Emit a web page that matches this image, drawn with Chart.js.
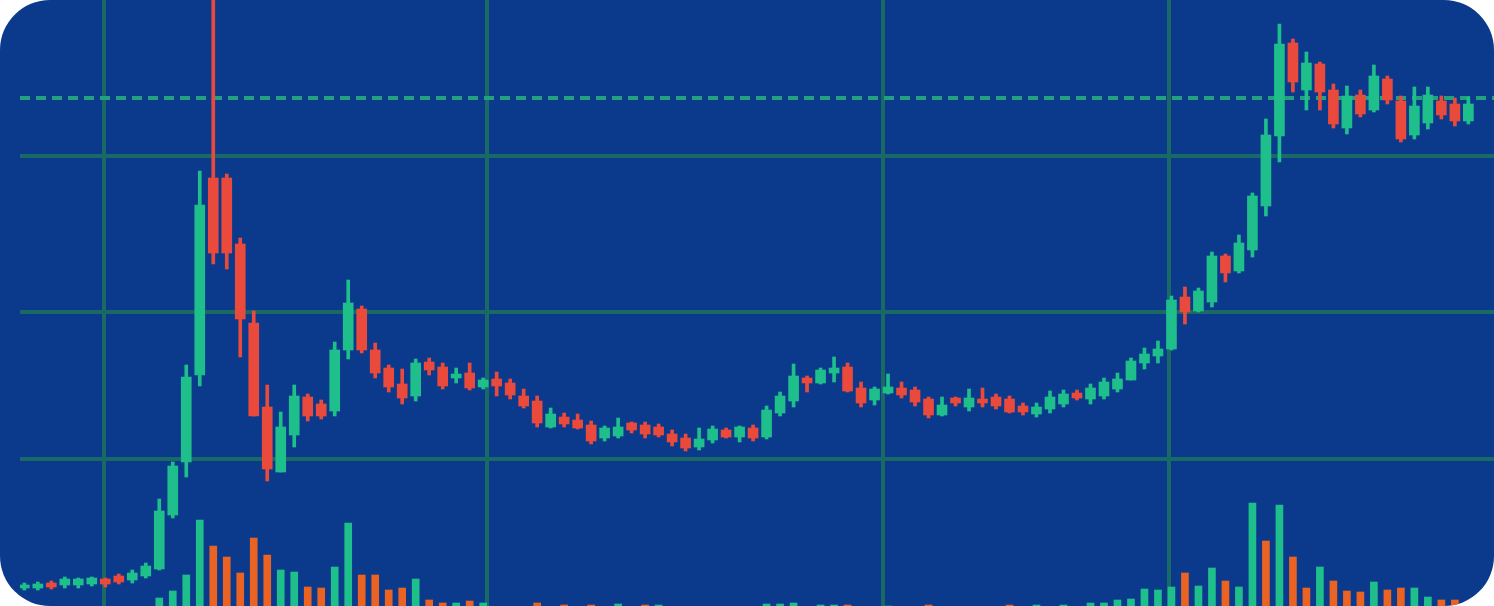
<!DOCTYPE html>
<html>
<head>
<meta charset="utf-8">
<title>Candles</title>
<script src="https://cdn.jsdelivr.net/npm/chart.js@4.4.1/dist/chart.umd.min.js"></script>
<style>
  html, body { margin: 0; padding: 0; background: #ffffff; }
  .wrap { width: 1494px; height: 606px; border-radius: 50px; overflow: hidden; background: #0b3a8c; }
  canvas { display: block; }
</style>
</head>
<body>
<div class="wrap"><canvas id="chart" width="1494" height="606"></canvas></div>
<script>
// OHLC per candle (index 0..107)
const openPrices = [
  1.8, 1.8, 2.3, 2.1, 2.1, 2.2, 2.7, 3.0, 2.6, 3.0,
  3.7, 9.1, 14.4, 23.1, 42.8, 42.8, 36.2, 28.3, 19.9, 13.4,
  17.1, 20.9, 20.2, 19.5, 25.6, 29.7, 25.6, 23.8, 22.2, 21.0,
  24.4, 23.9, 22.8, 23.3, 21.9, 22.7, 22.3, 21.0, 20.5, 17.9,
  18.9, 18.6, 18.1, 16.8, 17.0, 18.3, 18.1, 17.9, 17.2, 16.8,
  15.9, 16.6, 17.6, 16.9, 17.8, 16.9, 19.3, 20.5, 22.8, 22.3,
  23.3, 23.9, 21.8, 20.6, 21.3, 21.8, 21.6, 20.7, 19.1, 20.8,
  19.9, 20.7, 20.9, 20.7, 20.0, 19.2, 19.7, 20.2, 21.3, 20.7,
  21.0, 21.7, 22.6, 24.3, 25.0, 25.7, 30.9, 29.5, 30.4, 35.0,
  33.5, 35.6, 40.0, 47.0, 56.3, 51.6, 54.2, 51.6, 47.8, 51.1,
  49.6, 52.7, 50.5, 47.1, 48.3, 50.5, 50.2, 48.5
];
const highPrices = [
  2.3, 2.4, 2.5, 2.9, 2.8, 2.9, 2.8, 3.2, 3.6, 4.3,
  10.7, 14.4, 24.1, 43.5, 62.6, 43.2, 36.8, 29.5, 22.1, 19.4,
  22.1, 21.2, 20.6, 26.4, 32.6, 30.0, 26.3, 24.1, 23.7, 24.7,
  24.8, 24.3, 23.8, 24.3, 22.8, 23.4, 22.7, 21.7, 21.0, 19.8,
  19.3, 19.2, 18.5, 18.0, 18.8, 18.4, 18.4, 18.2, 17.6, 17.2,
  17.8, 18.0, 17.8, 18.0, 18.1, 20.0, 21.4, 24.2, 23.0, 23.8,
  24.9, 24.3, 22.4, 21.9, 23.2, 22.4, 21.9, 20.9, 20.9, 20.9,
  21.7, 21.8, 21.2, 21.0, 20.3, 20.3, 21.5, 21.6, 21.6, 22.2,
  22.8, 23.3, 24.8, 25.8, 26.5, 31.0, 31.9, 31.8, 35.4, 35.2,
  37.1, 41.3, 48.7, 58.2, 56.7, 55.4, 54.4, 52.2, 52.0, 51.6,
  54.1, 53.0, 51.0, 51.9, 51.9, 51.0, 50.8, 50.9
];
const lowPrices = [
  1.6, 1.6, 1.7, 1.8, 1.8, 2.0, 1.9, 2.2, 2.3, 2.8,
  3.6, 8.8, 12.9, 22.0, 34.2, 33.7, 24.9, 19.0, 12.5, 13.4,
  15.9, 18.5, 18.7, 19.0, 24.7, 25.3, 22.8, 21.4, 20.2, 20.5,
  23.1, 21.7, 22.3, 21.6, 21.7, 21.0, 20.7, 19.8, 17.9, 17.8,
  17.9, 17.7, 16.2, 16.5, 16.8, 17.3, 16.8, 16.9, 16.0, 15.5,
  15.6, 16.3, 16.8, 16.4, 16.5, 16.7, 19.0, 19.9, 21.4, 22.2,
  22.4, 21.4, 19.9, 20.1, 21.2, 20.8, 20.0, 18.8, 19.0, 20.0,
  19.5, 19.9, 19.7, 19.3, 19.1, 18.9, 19.3, 19.9, 20.6, 20.2,
  20.7, 21.4, 22.6, 23.7, 24.3, 25.6, 28.2, 29.4, 29.9, 32.4,
  33.3, 34.9, 39.0, 44.4, 51.4, 49.6, 49.6, 47.8, 47.2, 48.9,
  49.4, 50.2, 46.4, 46.7, 47.7, 48.7, 48.0, 48.2
];
const closePrices = [
  2.1, 2.2, 1.9, 2.7, 2.7, 2.8, 2.2, 2.4, 3.3, 4.0,
  9.5, 14.0, 22.9, 40.1, 35.3, 35.3, 28.7, 19.0, 13.7, 17.9,
  21.0, 19.0, 19.0, 25.6, 30.3, 25.6, 23.3, 21.9, 20.8, 24.3,
  23.6, 22.0, 23.2, 21.8, 22.6, 22.0, 21.1, 20.0, 18.3, 19.2,
  18.2, 17.8, 16.5, 17.8, 17.9, 17.6, 17.2, 17.1, 16.4, 15.8,
  16.7, 17.7, 16.9, 17.9, 16.8, 19.6, 21.0, 23.0, 22.3, 23.6,
  23.8, 21.5, 20.3, 21.7, 21.9, 21.1, 20.4, 19.1, 20.1, 20.3,
  20.8, 20.3, 20.0, 19.4, 19.4, 19.9, 20.9, 21.2, 20.8, 21.8,
  22.4, 22.7, 24.5, 25.2, 25.7, 30.6, 29.4, 31.5, 35.0, 33.3,
  36.3, 41.0, 47.1, 56.2, 52.4, 54.3, 51.4, 48.2, 51.0, 49.2,
  53.0, 50.6, 46.7, 50.0, 51.1, 49.1, 48.5, 50.2
];

// volume per candle and whether its bar is green (1) or orange (0)
const volumes = [
  22, 22, 24, 24, 25, 25, 26, 27, 28, 30,
  42, 49, 65, 120, 94, 83, 67, 102, 85, 70,
  68, 53, 52, 73, 117, 65, 65, 50, 52, 61,
  40, 37, 37, 39, 37, 33, 32, 33, 37, 33,
  35, 32, 35, 32, 36, 33, 35, 35, 32, 33,
  32, 33, 32, 32, 33, 36, 36, 37, 33, 35,
  35, 35, 33, 33, 34, 33, 33, 35, 33, 32,
  33, 32, 33, 35, 33, 35, 33, 35, 33, 37,
  37, 40, 41, 51, 50, 53, 67, 54, 72, 59,
  53, 137, 99, 135, 83, 52, 73, 59, 49, 48,
  58, 50, 52, 52, 43, 40, 40, 36
];
const volumeUp = [
  1, 1, 0, 1, 1, 1, 0, 0, 1, 1,
  1, 1, 1, 1, 0, 0, 0, 0, 0, 1,
  1, 0, 0, 1, 1, 0, 0, 0, 0, 1,
  0, 0, 1, 0, 1, 0, 0, 0, 0, 1,
  0, 0, 0, 1, 1, 0, 0, 1, 0, 0,
  1, 1, 0, 1, 0, 1, 1, 1, 0, 1,
  1, 0, 0, 1, 1, 0, 0, 0, 1, 0,
  1, 0, 0, 0, 0, 1, 1, 1, 0, 1,
  1, 1, 1, 1, 1, 1, 0, 1, 1, 0,
  1, 1, 0, 1, 0, 0, 1, 0, 0, 0,
  1, 0, 0, 1, 1, 0, 0, 1
];

// vertical / horizontal grid positions (axis units) and the dashed level
const gridX = [5.9, 34.3, 63.6, 84.8];
const gridY = [14.7, 29.45, 45.0];
const dashLevel = 50.8;

const X_MIN = -0.32, X_MAX = 108.9;

const GREEN = '#1fbf8c';
const RED = '#ea4a3b';
const ORANGE = '#ea6322';
const GRID = '#196964';

const candleColors = openPrices.map((o, i) => closePrices[i] >= o ? GREEN : RED);

new Chart(document.getElementById('chart'), {
  type: 'bar',
  data: {
    datasets: [
      {
        type: 'line',
        data: [{ x: X_MIN, y: dashLevel }, { x: X_MAX, y: dashLevel }],
        borderColor: '#21a27d',
        borderWidth: 4,
        borderDash: [10, 6],
        pointRadius: 0,
        order: 4
      },
      {
        yAxisID: 'y2',
        data: volumes.map((v, i) => ({ x: i, y: [0, v] })),
        backgroundColor: volumeUp.map(u => u ? GREEN : ORANGE),
        barThickness: 7,
        grouped: false,
        order: 3
      },
      {
        data: highPrices.map((h, i) => ({ x: i, y: [lowPrices[i], h] })),
        backgroundColor: candleColors,
        barThickness: 3,
        grouped: false,
        order: 2
      },
      {
        data: openPrices.map((o, i) => ({ x: i, y: [o, closePrices[i]] })),
        backgroundColor: candleColors,
        barThickness: 10,
        minBarLength: 2,
        grouped: false,
        order: 1
      }
    ]
  },
  options: {
    responsive: false,
    animation: false,
    devicePixelRatio: 1,
    layout: { padding: { left: 20, top: 0, right: 0, bottom: 0 } },
    plugins: {
      legend: { display: false },
      tooltip: { enabled: false }
    },
    scales: {
      x: {
        type: 'linear',
        min: X_MIN,
        max: X_MAX,
        offset: false,
        afterBuildTicks: (scale) => { scale.ticks = gridX.map(v => ({ value: v })); },
        ticks: { display: false },
        grid: { color: GRID, lineWidth: 4, drawTicks: false, offset: false },
        border: { display: false }
      },
      y: {
        min: 0,
        max: 60.6,
        afterBuildTicks: (scale) => { scale.ticks = gridY.map(v => ({ value: v })); },
        ticks: { display: false },
        grid: { color: GRID, lineWidth: 4, drawTicks: false },
        border: { display: false }
      },
      y2: {
        display: false,
        min: 34,
        max: 640
      }
    }
  }
});
</script>
</body>
</html>
